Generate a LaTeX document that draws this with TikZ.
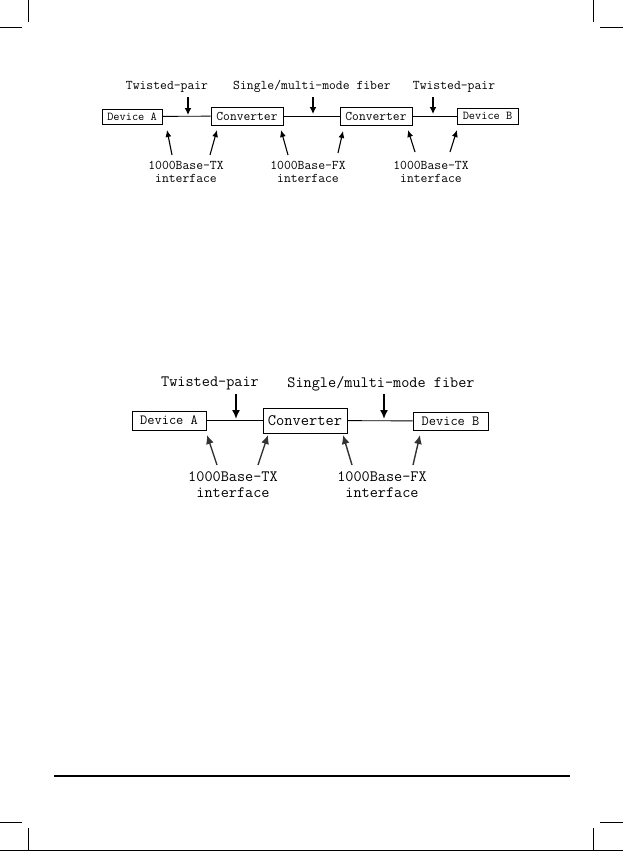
\documentclass[tikz,border=0pt]{standalone}
\usetikzlibrary{arrows.meta}
\tikzset{
  boxT/.style={draw, line width=0.9pt, inner sep=0pt, font=\ttfamily\fontsize{12}{12}\selectfont},
  convT/.style={draw, line width=0.9pt, inner sep=0pt, font=\ttfamily\fontsize{13.2}{13}\selectfont},
  boxB/.style={draw, line width=1pt, inner sep=0pt, font=\ttfamily\fontsize{14}{14}\selectfont},
  convB/.style={draw, line width=1pt, inner sep=0pt, font=\ttfamily\fontsize{16}{16}\selectfont},
  lblT/.style={inner sep=0pt, font=\ttfamily\fontsize{13.3}{12.6}\selectfont, align=center},
  lblB/.style={inner sep=0pt, font=\ttfamily\fontsize{15.8}{16.5}\selectfont, align=center},
  wire/.style={line width=0.9pt},
  downT/.style={line width=1.5pt, -{Latex[length=7pt,width=7pt]}},
  upT/.style={line width=1.1pt, -{Latex[length=7pt,width=6pt]}},
  downB/.style={line width=1.6pt, -{Latex[length=9pt,width=8pt]}},
  upB/.style={line width=1.4pt, black!80, -{Latex[length=9pt,width=8pt]}},
  cropmark/.style={line width=1pt}
}
\begin{document}
\begin{tikzpicture}[x=1pt,y=-1pt]
\useasboundingbox (0,0) rectangle (623,851);
% crop marks and page rules
\coordinate (m1a) at (28,0);   \coordinate (m1b) at (28,22);
\coordinate (m2a) at (0,28);   \coordinate (m2b) at (22,28);
\coordinate (m3a) at (593,0);  \coordinate (m3b) at (593,22);
\coordinate (m4a) at (600,28); \coordinate (m4b) at (623,28);
\coordinate (m5a) at (0,822);  \coordinate (m5b) at (22,822);
\coordinate (m6a) at (28,828); \coordinate (m6b) at (28,851);
\coordinate (m7a) at (600,822);\coordinate (m7b) at (623,822);
\coordinate (m8a) at (593,828);\coordinate (m8b) at (593,851);
\coordinate (r1a) at (54,776); \coordinate (r1b) at (570,776);
\coordinate (r2a) at (0,850.5);\coordinate (r2b) at (623,850.5);
\foreach \p in {m1,m2,m3,m4,m5,m6,m7,m8} \draw[cropmark] (\p a) -- (\p b);
\draw[line width=1.3pt] (r1a) -- (r1b);
\draw[line width=1pt] (r2a) -- (r2b);

% ---------- top diagram ----------
\node[boxT, minimum width=60pt, minimum height=15pt] (tA) at (132,116.5) {Device A};
\node[convT, minimum width=72pt, minimum height=18pt] (tC1) at (247,116) {Converter};
\node[convT, minimum width=72pt, minimum height=18pt] (tC2) at (376,116) {Converter};
\node[boxT, minimum width=61pt, minimum height=16pt] (tB) at (487.5,116) {Device B};
\draw[wire] (tA) -- (tC1);
\draw[wire] (tC1) -- (tC2);
\draw[wire] (tC2) -- (tB);

\node[lblT, anchor=base] (tTP1) at (167,89) {Twisted-pair};
\node[lblT, anchor=base] (tSM) at (312,89) {Single/multi-mode fiber};
\node[lblT, anchor=base] (tTP2) at (454,89) {Twisted-pair};
\coordinate (td1s) at (188,97);  \coordinate (td1e) at (188,115);
\coordinate (td2s) at (313,97);  \coordinate (td2e) at (313,114);
\coordinate (td3s) at (433,97);  \coordinate (td3e) at (433,114);
\draw[downT] (td1s) -- (td1e);
\draw[downT] (td2s) -- (td2e);
\draw[downT] (td3s) -- (td3e);

\node[lblT, anchor=north] (tL1) at (186,161) {1000Base-TX\\interface};
\node[lblT, anchor=north] (tL2) at (308,161) {1000Base-FX\\interface};
\node[lblT, anchor=north] (tL3) at (431,161) {1000Base-TX\\interface};
\coordinate (tu1s) at (172,155); \coordinate (tu1e) at (167,130);
\coordinate (tu2s) at (210,155); \coordinate (tu2e) at (217,130);
\coordinate (tu3s) at (288,155); \coordinate (tu3e) at (281,130);
\coordinate (tu4s) at (338,153); \coordinate (tu4e) at (343,131);
\coordinate (tu5s) at (415,152); \coordinate (tu5e) at (408,130);
\coordinate (tu6s) at (450,152); \coordinate (tu6e) at (457,130);
\foreach \i in {1,...,6} \draw[upT] (tu\i s) -- (tu\i e);

% ---------- bottom diagram ----------
\node[boxB, minimum width=74pt, minimum height=19pt] (bA) at (169,420.5) {Device A};
\node[convB, minimum width=84pt, minimum height=25pt] (bC) at (305,420.5) {Converter};
\node[boxB, minimum width=75pt, minimum height=18pt] (bB) at (450.5,421) {Device B};
\draw[wire] (bA) -- (bC);
\draw[wire] (bC) -- (bB);

\node[lblB, anchor=base] (bTP) at (210,386) {Twisted-pair};
\node[lblB, anchor=base] (bSM) at (381,387) {Single/multi-mode fiber};
\coordinate (bd1s) at (236,394); \coordinate (bd1e) at (236,419);
\coordinate (bd2s) at (384,394); \coordinate (bd2e) at (384,419);
\draw[downB] (bd1s) -- (bd1e);
\draw[downB] (bd2s) -- (bd2e);

\node[lblB, anchor=north] (bL1) at (233,471) {1000Base-TX\\interface};
\node[lblB, anchor=north] (bL2) at (382,471) {1000Base-FX\\interface};
\coordinate (bu1s) at (217,465); \coordinate (bu1e) at (207,435);
\coordinate (bu2s) at (258,465); \coordinate (bu2e) at (268,435);
\coordinate (bu3s) at (352,465); \coordinate (bu3e) at (343,435);
\coordinate (bu4s) at (413,465); \coordinate (bu4e) at (420,435);
\foreach \i in {1,...,4} \draw[upB] (bu\i s) -- (bu\i e);
\end{tikzpicture}
\end{document}
